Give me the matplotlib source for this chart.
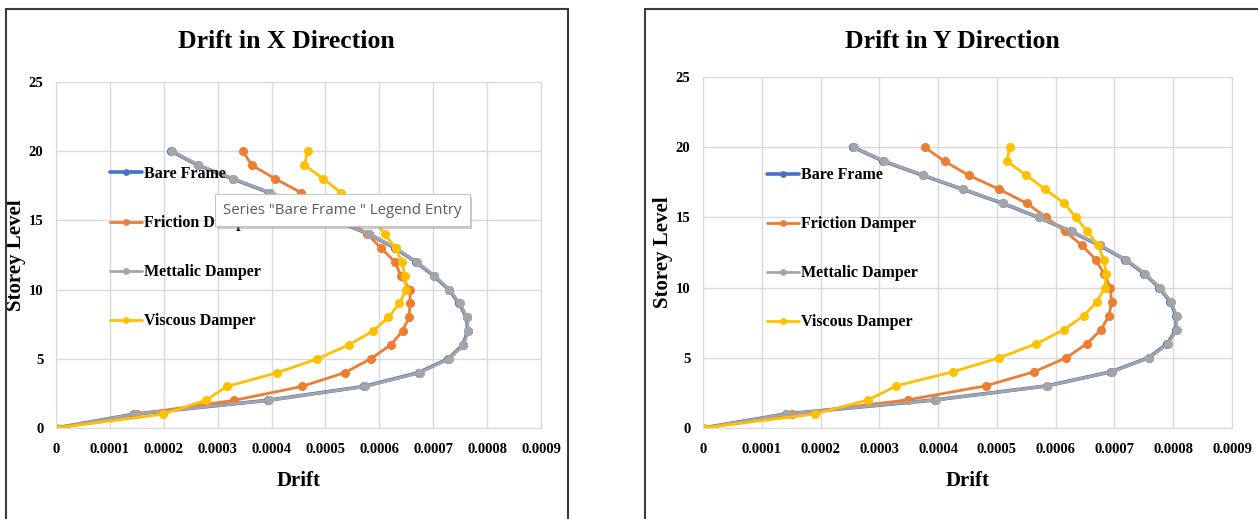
import matplotlib
matplotlib.use("Agg")
import matplotlib.pyplot as plt
from matplotlib.patches import Rectangle
from matplotlib import patheffects

# storey levels
levels = list(range(21))

# drift in X direction
bare_x = [0, 0.000145, 0.000393, 0.000571, 0.000673, 0.000728, 0.000755, 0.000764, 0.000762, 0.000748,
          0.000729, 0.000701, 0.000668, 0.000629, 0.000581, 0.000519, 0.000461, 0.000396, 0.000328, 0.000263, 0.000214]
friction_x = [0, 0.000150, 0.000331, 0.000456, 0.000536, 0.000584, 0.000621, 0.000643, 0.000655, 0.000657,
              0.000657, 0.000640, 0.000629, 0.000603, 0.000578, 0.000542, 0.000500, 0.000455, 0.000407, 0.000363, 0.000347]
metallic_x = [0, 0.000146, 0.000395, 0.000573, 0.000675, 0.000729, 0.000756, 0.000765, 0.000763, 0.000749,
              0.000730, 0.000702, 0.000669, 0.000630, 0.000581, 0.000520, 0.000462, 0.000397, 0.000329, 0.000264, 0.000215]
viscous_x = [0, 0.000199, 0.000278, 0.000317, 0.000411, 0.000485, 0.000543, 0.000588, 0.000617, 0.000637,
             0.000650, 0.000647, 0.000642, 0.000630, 0.000610, 0.000593, 0.000562, 0.000529, 0.000496, 0.000461, 0.000467]

# drift in Y direction
bare_y = [0, 0.000141, 0.000395, 0.000585, 0.000694, 0.000758, 0.000790, 0.000805, 0.000805, 0.000795,
          0.000776, 0.000751, 0.000718, 0.000675, 0.000626, 0.000571, 0.000510, 0.000442, 0.000374, 0.000307, 0.000256]
friction_y = [0, 0.000152, 0.000348, 0.000481, 0.000563, 0.000618, 0.000653, 0.000677, 0.000691, 0.000695,
              0.000693, 0.000682, 0.000668, 0.000645, 0.000616, 0.000584, 0.000551, 0.000504, 0.000452, 0.000411, 0.000377]
metallic_y = [0, 0.000142, 0.000396, 0.000586, 0.000695, 0.000759, 0.000791, 0.000806, 0.000806, 0.000796,
              0.000777, 0.000752, 0.000719, 0.000676, 0.000627, 0.000572, 0.000511, 0.000443, 0.000375, 0.000308, 0.000257]
viscous_y = [0, 0.000191, 0.000281, 0.000329, 0.000425, 0.000504, 0.000567, 0.000614, 0.000648, 0.000670,
             0.000684, 0.000686, 0.000682, 0.000672, 0.000654, 0.000634, 0.000615, 0.000582, 0.000550, 0.000517, 0.000522]

series_names = ["Bare Frame", "Friction Damper", "Mettalic Damper", "Viscous Damper"]
series_colors = ["#4472C4", "#ED7D31", "#A5A5A5", "#FFC000"]

x_ticks = [0, 0.0001, 0.0002, 0.0003, 0.0004, 0.0005, 0.0006, 0.0007, 0.0008, 0.0009]
x_tick_labels = ["0", "0.0001", "0.0002", "0.0003", "0.0004", "0.0005", "0.0006", "0.0007", "0.0008", "0.0009"]
y_ticks = [0, 5, 10, 15, 20, 25]

SERIF = "Liberation Serif"
W, H = 1258, 519


def draw_chart(fig, rect, title, title_x, series, leg_anchor):
    ax = fig.add_axes(rect)
    for (name, color), xs in zip(zip(series_names, series_colors), series):
        lw = 2.6 if name == "Bare Frame" else 2.0
        ax.plot(xs, levels, color=color, lw=lw, marker="o", markersize=5.5,
                solid_capstyle="round", label=name)
    ax.set_xlim(0, 0.0009)
    ax.set_ylim(0, 25)
    ax.set_xticks(x_ticks)
    ax.set_xticklabels(x_tick_labels)
    ax.set_yticks(y_ticks)
    ax.grid(True, color="#d9d9d9", lw=1)
    ax.set_axisbelow(True)
    for s in ax.spines.values():
        s.set_color("#d9d9d9")
    ax.tick_params(axis="x", length=0, pad=11)
    ax.tick_params(axis="y", length=0, pad=9)
    for lab in ax.get_xticklabels() + ax.get_yticklabels():
        lab.set_fontfamily(SERIF)
        lab.set_fontweight("bold")
        lab.set_fontsize(10.5)
    ax.set_xlabel("Drift", fontfamily=SERIF, fontweight="bold", fontsize=15)
    ax.set_ylabel("Storey Level", fontfamily=SERIF, fontweight="bold", fontsize=15)
    ax.xaxis.set_label_coords(0.5, -43 / (rect[3] * H))
    ax.yaxis.set_label_coords(-30 / (rect[2] * W), 0.5)
    ax.legend(loc="upper left", bbox_to_anchor=leg_anchor, frameon=False,
              borderaxespad=0, borderpad=0, handlelength=2.0, handletextpad=0.15,
              labelspacing=2.07, numpoints=1, markerscale=0.7,
              prop={"family": SERIF, "weight": "bold", "size": 11.5})
    fig.text(title_x, 1 - 42 / H, title, ha="center", va="center",
             fontfamily=SERIF, fontweight="bold", fontsize=18.5)
    return ax


fig = plt.figure(figsize=(W / 100, H / 100), dpi=100)

# chart frames
fig.add_artist(Rectangle((6 / W, -0.1), (568 - 6) / W, 1.1 - 9 / H, transform=fig.transFigure,
                         fill=False, ec="#3c3c3c", lw=1.5))
fig.add_artist(Rectangle((645 / W, -0.1), 0.5, 1.1 - 9 / H, transform=fig.transFigure,
                         fill=False, ec="#3c3c3c", lw=1.5))

draw_chart(fig, [56 / W, 1 - 428 / H, 485 / W, 346 / H], "Drift in X Direction", 286 / W,
           [bare_x, friction_x, metallic_x, viscous_x], (0.111, 0.757))
draw_chart(fig, [703 / W, 1 - 428 / H, 529 / W, 351 / H], "Drift in Y Direction", 952 / W,
           [bare_y, friction_y, metallic_y, viscous_y], (0.121, 0.743))

# hover tooltip over the legend of the left chart
tip = fig.text(342 / W, 1 - 210 / H, 'Series "Bare Frame " Legend Entry', ha="center", va="center",
               fontsize=10.8, color="#5a5a5a", family=["Open Sans", "DejaVu Sans"],
               bbox=dict(boxstyle="square,pad=0.55", fc="white", ec="#c4c4c4", lw=0.8), zorder=10)
tip.get_bbox_patch().set_path_effects([patheffects.withSimplePatchShadow(offset=(2, -2), shadow_rgbFace="#999999", alpha=0.5)])

fig.savefig("out.png", dpi=100)
